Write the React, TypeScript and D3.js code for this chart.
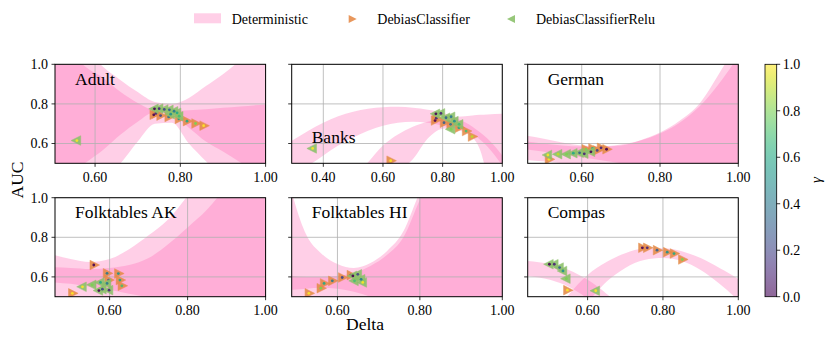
import React from "react";
import * as d3 from "d3";

const FONT = "'Liberation Serif', 'DejaVu Serif', serif";

// panels
const panelNames = ["Adult", "Banks", "German", "Folktables AK", "Folktables HI", "Compas"];
const panelXMin = [0.506, 0.294, 0.462, 0.46, 0.489, 0.441];
const panelXTicks = [
  [0.6, 0.8, 1.0],
  [0.4, 0.6, 0.8, 1.0],
  [0.6, 0.8, 1.0],
  [0.6, 0.8, 1.0],
  [0.6, 0.8, 1.0],
  [0.6, 0.8, 1.0],
];
const yTicks = [0.6, 0.8, 1.0];
const gammaTicks = [0.0, 0.2, 0.4, 0.6, 0.8, 1.0];

// Deterministic regions: each band is the area between a lower and an upper curve
const adultGrid = [0.48, 0.54, 0.576, 0.62, 0.66, 0.70, 0.74, 0.78, 0.82, 0.86, 0.90, 0.94, 1.0, 1.02];
const adultU1 = [1.22, 1.07, 0.99, 0.93, 0.86, 0.805, 0.768, 0.764, 0.768, 0.773, 0.78, 0.787, 0.797, 0.80];
const adultD1 = [0.35, 0.44, 0.50, 0.57, 0.645, 0.71, 0.758, 0.745, 0.68, 0.61, 0.56, 0.505, 0.40, 0.36];
const adultU2 = [1.4, 1.2, 1.09, 0.985, 0.92, 0.86, 0.81, 0.80, 0.83, 0.89, 0.95, 1.02, 1.15, 1.2];
const adultD2 = [0.0, 0.2, 0.31, 0.41, 0.50, 0.61, 0.70, 0.705, 0.60, 0.51, 0.42, 0.32, 0.15, 0.1];

const banksGrid = [0.28, 0.35, 0.40, 0.45, 0.50, 0.55, 0.60, 0.65, 0.70, 0.75, 0.80, 0.85, 0.90, 0.925, 0.95, 1.0, 1.02];
const banksAHi = [0.60, 0.665, 0.705, 0.737, 0.76, 0.775, 0.783, 0.785, 0.78, 0.77, 0.755, 0.725, 0.685, 0.657, 0.625, 0.54, 0.50];
const banksALo = [0.45, 0.49, 0.54, 0.59, 0.63, 0.665, 0.69, 0.705, 0.71, 0.705, 0.69, 0.67, 0.63, 0.57, 0.44, 0.30, 0.25];
const banksBHi = [-0.2, 0.0, 0.15, 0.30, 0.42, 0.505, 0.59, 0.645, 0.685, 0.71, 0.725, 0.735, 0.742, 0.745, 0.747, 0.75, 0.75];
const banksBLo = [-0.4, -0.2, -0.05, 0.1, 0.22, 0.33, 0.41, 0.46, 0.52, 0.625, 0.675, 0.68, 0.65, 0.62, 0.585, 0.49, 0.45];

const germanGrid = [0.44, 0.50, 0.55, 0.60, 0.65, 0.70, 0.75, 0.80, 0.85, 0.90, 0.95, 1.0, 1.02];
const germanU1 = [0.615, 0.60, 0.59, 0.585, 0.585, 0.595, 0.615, 0.65, 0.705, 0.785, 0.90, 1.04, 1.1];
const germanD1 = [0.575, 0.56, 0.545, 0.53, 0.515, 0.50, 0.48, 0.45, 0.40, 0.35, 0.30, 0.25, 0.23];
const germanU2 = [0.645, 0.625, 0.605, 0.59, 0.585, 0.59, 0.617, 0.655, 0.715, 0.80, 0.95, 1.12, 1.2];
const germanD2 = [0.52, 0.51, 0.50, 0.485, 0.47, 0.45, 0.42, 0.39, 0.35, 0.30, 0.25, 0.2, 0.18];

const akGrid = [0.44, 0.50, 0.55, 0.60, 0.65, 0.70, 0.75, 0.80, 0.85, 0.90, 0.95, 1.0, 1.02];
const akU1 = [0.65, 0.645, 0.64, 0.645, 0.66, 0.695, 0.765, 0.85, 0.94, 1.06, 1.2, 1.35, 1.4];
const akD1 = [0.575, 0.565, 0.55, 0.535, 0.515, 0.495, 0.46, 0.42, 0.38, 0.33, 0.28, 0.22, 0.2];
const akU2 = [0.72, 0.69, 0.675, 0.69, 0.74, 0.81, 0.89, 1.01, 1.15, 1.3, 1.45, 1.6, 1.65];
const akD2 = [0.40, 0.40, 0.39, 0.38, 0.36, 0.33, 0.30, 0.27, 0.24, 0.2, 0.16, 0.12, 0.1];

const hiGrid = [0.47, 0.493, 0.525, 0.56, 0.60, 0.64, 0.68, 0.72, 0.76, 0.80, 0.85, 0.90, 1.0, 1.02];
const hiU1 = [0.61, 0.605, 0.60, 0.60, 0.605, 0.62, 0.655, 0.71, 0.80, 0.99, 1.2, 1.4, 1.8, 1.9];
const hiD1 = [0.53, 0.535, 0.54, 0.545, 0.54, 0.525, 0.50, 0.47, 0.43, 0.38, 0.30, 0.20, 0.0, -0.05];
const hiU2 = [1.2, 1.0, 0.81, 0.72, 0.665, 0.645, 0.67, 0.73, 0.83, 1.03, 1.25, 1.45, 1.8, 1.9];
const hiD2 = [0.3, 0.3, 0.3, 0.3, 0.3, 0.3, 0.3, 0.3, 0.3, 0.3, 0.3, 0.3, 0.3, 0.3];

const compasGrid = [0.42, 0.441, 0.50, 0.55, 0.60, 0.65, 0.70, 0.75, 0.80, 0.85, 0.90, 0.95, 1.0, 1.02];
const compasAHi = [0.685, 0.68, 0.665, 0.635, 0.585, 0.515, 0.43, 0.33, 0.22, 0.10, 0.0, -0.1, -0.2, -0.25];
const compasALo = [0.61, 0.605, 0.585, 0.55, 0.49, 0.41, 0.32, 0.22, 0.10, 0.0, -0.1, -0.2, -0.3, -0.35];
const compasBHi = [0.15, 0.2, 0.37, 0.51, 0.61, 0.675, 0.72, 0.743, 0.745, 0.73, 0.695, 0.645, 0.589, 0.56];
const compasBLo = [0.0, 0.05, 0.2, 0.35, 0.47, 0.575, 0.645, 0.685, 0.695, 0.68, 0.635, 0.565, 0.48, 0.44];

// DebiasClassifier (orange, ">") points: delta, AUC, gamma
const adultOrangeX = [0.740, 0.745, 0.756, 0.775, 0.799, 0.818, 0.838, 0.857];
const adultOrangeY = [0.745, 0.752, 0.741, 0.734, 0.724, 0.713, 0.701, 0.690];
const adultOrangeG = [0.0, 0.1, 0.2, 0.4, 0.5, 0.6, 0.8, 1.0];
const banksOrangeX = [0.778, 0.782, 0.808, 0.830, 0.858, 0.882, 0.902, 0.629];
const banksOrangeY = [0.716, 0.728, 0.705, 0.697, 0.680, 0.663, 0.635, 0.513];
const banksOrangeG = [0.0, 0.1, 0.3, 0.4, 0.6, 0.7, 0.9, 1.0];
const germanOrangeX = [0.519, 0.613, 0.630, 0.642, 0.652, 0.666];
const germanOrangeY = [0.520, 0.571, 0.575, 0.565, 0.578, 0.571];
const germanOrangeG = [1.0, 0.8, 0.6, 0.2, 0.1, 0.0];
const akOrangeX = [0.562, 0.596, 0.625, 0.600, 0.629, 0.634, 0.507];
const akOrangeY = [0.660, 0.618, 0.617, 0.584, 0.584, 0.555, 0.517];
const akOrangeG = [0.0, 0.4, 0.5, 0.2, 0.6, 0.7, 1.0];
const hiOrangeX = [0.533, 0.562, 0.570, 0.590, 0.614, 0.635];
const hiOrangeY = [0.517, 0.543, 0.567, 0.580, 0.597, 0.609];
const hiOrangeG = [1.0, 0.8, 0.6, 0.4, 0.2, 0.0];
const compasOrangeX = [0.748, 0.761, 0.787, 0.814, 0.832, 0.854, 0.549];
const compasOrangeY = [0.747, 0.747, 0.735, 0.725, 0.718, 0.688, 0.533];
const compasOrangeG = [0.0, 0.1, 0.3, 0.5, 0.6, 0.8, 1.0];

// DebiasClassifierRelu (green, "<") points
const adultGreenX = [0.737, 0.748, 0.760, 0.772, 0.783, 0.775, 0.790, 0.795, 0.555];
const adultGreenY = [0.775, 0.776, 0.772, 0.770, 0.763, 0.748, 0.755, 0.738, 0.615];
const adultGreenG = [0.0, 0.1, 0.2, 0.3, 0.4, 0.5, 0.6, 0.7, 1.0];
const banksGreenX = [0.774, 0.791, 0.808, 0.825, 0.836, 0.852, 0.825, 0.361];
const banksGreenY = [0.750, 0.752, 0.730, 0.735, 0.713, 0.697, 0.672, 0.575];
const banksGreenG = [0.0, 0.1, 0.3, 0.4, 0.5, 0.7, 0.8, 1.0];
const germanGreenX = [0.511, 0.537, 0.559, 0.576, 0.592, 0.604, 0.621];
const germanGreenY = [0.542, 0.546, 0.546, 0.551, 0.553, 0.548, 0.558];
const germanGreenG = [1.0, 0.9, 0.8, 0.6, 0.3, 0.1, 0.0];
const akGreenX = [0.528, 0.553, 0.574, 0.591, 0.579, 0.596, 0.570];
const akGreenY = [0.550, 0.560, 0.572, 0.567, 0.538, 0.533, 0.531];
const akGreenG = [1.0, 0.8, 0.6, 0.4, 0.2, 0.1, 0.0];
const hiGreenX = [0.635, 0.647, 0.655, 0.639, 0.659];
const hiGreenY = [0.605, 0.613, 0.588, 0.580, 0.572];
const hiGreenG = [0.0, 0.2, 0.4, 0.7, 1.0];
const compasGreenX = [0.496, 0.509, 0.523, 0.532, 0.541, 0.619];
const compasGreenY = [0.664, 0.664, 0.647, 0.630, 0.591, 0.530];
const compasGreenG = [0.0, 0.1, 0.3, 0.5, 0.8, 1.0];

const panelBands = [
  { grid: adultGrid, bands: [[adultD1, adultU1], [adultD2, adultU2]] },
  { grid: banksGrid, bands: [[banksALo, banksAHi], [banksBLo, banksBHi]] },
  { grid: germanGrid, bands: [[germanD1, germanU1], [germanD2, germanU2]] },
  { grid: akGrid, bands: [[akD1, akU1], [akD2, akU2]] },
  { grid: hiGrid, bands: [[hiD1, hiU1], [hiD2, hiU2]] },
  { grid: compasGrid, bands: [[compasALo, compasAHi], [compasBLo, compasBHi]] },
];
const orangeSeries = [
  [adultOrangeX, adultOrangeY, adultOrangeG],
  [banksOrangeX, banksOrangeY, banksOrangeG],
  [germanOrangeX, germanOrangeY, germanOrangeG],
  [akOrangeX, akOrangeY, akOrangeG],
  [hiOrangeX, hiOrangeY, hiOrangeG],
  [compasOrangeX, compasOrangeY, compasOrangeG],
];
const greenSeries = [
  [adultGreenX, adultGreenY, adultGreenG],
  [banksGreenX, banksGreenY, banksGreenG],
  [germanGreenX, germanGreenY, germanGreenG],
  [akGreenX, akGreenY, akGreenG],
  [hiGreenX, hiGreenY, hiGreenG],
  [compasGreenX, compasGreenY, compasGreenG],
];

// layout
const colLeft = [55, 291.7, 527.7];
const rowTop = [64.3, 197.7];
const PW = 210.6;
const PH = 99;
const PINK = "#ff69b4";
const PINK_ALPHA = 0.32;
const ORANGE = "#e58c4a";
const GREEN = "#8cc16b";
const GRID = "#b0b0b0";

function tri(r: number, right: boolean) {
  return right
    ? `M${r},0L${-r},${-r}L${-r},${r}Z`
    : `M${-r},0L${r},${-r}L${r},${r}Z`;
}

function Markers({ series, right, x, y }: any) {
  const [xs, ys, gs] = series;
  return (
    <g>
      {xs.map((d: number, i: number) => (
        <path key={i} d={tri(4.8, right)} transform={`translate(${x(d)},${y(ys[i])})`}
          fill={right ? ORANGE : GREEN} stroke={right ? ORANGE : GREEN} strokeWidth={0.5} opacity={0.9} />
      ))}
      {xs.map((d: number, i: number) => (
        <circle key={"c" + i} cx={x(d) + (right ? -1 : 1)} cy={y(ys[i])} r={1.4}
          fill={d3.interpolateViridis(gs[i])} opacity={0.9} />
      ))}
    </g>
  );
}

function Panel({ idx }: { idx: number }) {
  const col = idx % 3;
  const row = Math.floor(idx / 3);
  const left = colLeft[col];
  const top = rowTop[row];
  const x = d3.scaleLinear().domain([panelXMin[idx], 1.0]).range([0, PW]);
  const y = d3.scaleLinear().domain([0.5, 1.0]).range([PH, 0]);
  const { grid, bands } = panelBands[idx];
  const clipId = `clip-${idx}`;
  const titleY = idx === 1 ? 79 : 20.5;

  return (
    <g transform={`translate(${left},${top})`}>
      <defs>
        <clipPath id={clipId}>
          <rect x={0} y={0} width={PW} height={PH} />
        </clipPath>
      </defs>
      <g clipPath={`url(#${clipId})`}>
        {bands.map(([lo, hi], b) => {
          const area = d3.area<number>()
            .x((d) => x(d))
            .y0((_, i) => y(lo[i]))
            .y1((_, i) => y(hi[i]))
            .curve(d3.curveMonotoneX);
          return <path key={b} d={area(grid) || ""} fill={PINK} fillOpacity={PINK_ALPHA} />;
        })}
        {panelXTicks[idx].map((t) => (
          <line key={"gx" + t} x1={x(t)} x2={x(t)} y1={0} y2={PH} stroke={GRID} strokeWidth={0.8} />
        ))}
        {yTicks.map((t) => (
          <line key={"gy" + t} x1={0} x2={PW} y1={y(t)} y2={y(t)} stroke={GRID} strokeWidth={0.8} />
        ))}
        <Markers series={orangeSeries[idx]} right={true} x={x} y={y} />
        <Markers series={greenSeries[idx]} right={false} x={x} y={y} />
      </g>
      <text x={20} y={titleY} fontSize={17.5} fill="#000">{panelNames[idx]}</text>
      <rect x={0} y={0} width={PW} height={PH} fill="none" stroke="#000" strokeWidth={1} />
      {panelXTicks[idx].map((t) => (
        <g key={"tx" + t}>
          <line x1={x(t)} x2={x(t)} y1={PH} y2={PH + 3.5} stroke="#000" strokeWidth={0.8} />
          <text x={x(t)} y={PH + 18.5} fontSize={14} textAnchor="middle">{d3.format(".2f")(t)}</text>
        </g>
      ))}
      {yTicks.map((t) => (
        <g key={"ty" + t}>
          <line x1={-3.5} x2={0} y1={y(t)} y2={y(t)} stroke="#000" strokeWidth={0.8} />
          {col === 0 && (
            <text x={-7} y={y(t) + 4.8} fontSize={14} textAnchor="end">{d3.format(".1f")(t)}</text>
          )}
        </g>
      ))}
    </g>
  );
}

function Colorbar() {
  const cbX = 765;
  const cbTop = 64.3;
  const cbBottom = 296.7;
  const cbW = 11.7;
  const g = d3.scaleLinear().domain([0, 1]).range([cbBottom, cbTop]);
  const stops = d3.range(0, 1.0001, 0.05);
  return (
    <g>
      <defs>
        <linearGradient id="viridis" x1="0" y1="1" x2="0" y2="0">
          {stops.map((s) => (
            <stop key={s} offset={s} stopColor={d3.interpolateViridis(s)} />
          ))}
        </linearGradient>
      </defs>
      <rect x={cbX} y={cbTop} width={cbW} height={cbBottom - cbTop} fill="url(#viridis)" opacity={0.6} />
      <rect x={cbX} y={cbTop} width={cbW} height={cbBottom - cbTop} fill="none" stroke="#000" strokeWidth={0.8} />
      {gammaTicks.map((t) => (
        <g key={t}>
          <line x1={cbX + cbW} x2={cbX + cbW + 3.5} y1={g(t)} y2={g(t)} stroke="#000" strokeWidth={0.8} />
          <text x={cbX + cbW + 6} y={g(t) + 4.8} fontSize={14}>{d3.format(".1f")(t)}</text>
        </g>
      ))}
      <text transform={`translate(821,180) rotate(-90)`} fontSize={15} textAnchor="middle" fontStyle="italic">γ</text>
    </g>
  );
}

function Legend() {
  return (
    <g>
      <rect x={194} y={13.3} width={27} height={10} fill={PINK} fillOpacity={PINK_ALPHA} />
      <text x={231.7} y={24} fontSize={14}>Deterministic</text>
      <path d={tri(4, true)} transform="translate(352.7,19)" fill={ORANGE} opacity={0.9} />
      <text x={377.3} y={24} fontSize={14}>DebiasClassifier</text>
      <path d={tri(4, false)} transform="translate(511,19)" fill={GREEN} opacity={0.9} />
      <text x={536} y={24} fontSize={14}>DebiasClassifierRelu</text>
    </g>
  );
}

export default function App() {
  return (
    <svg width={831} height={343} fontFamily={FONT}
      style={{ position: "absolute", left: 0, top: 0, background: "#fff" }}>
      <Legend />
      {panelNames.map((_, i) => <Panel key={i} idx={i} />)}
      <text transform="translate(23,180) rotate(-90)" fontSize={17.5} textAnchor="middle">AUC</text>
      <text x={365} y={330} fontSize={17.5} textAnchor="middle">Delta</text>
      <Colorbar />
    </svg>
  );
}
